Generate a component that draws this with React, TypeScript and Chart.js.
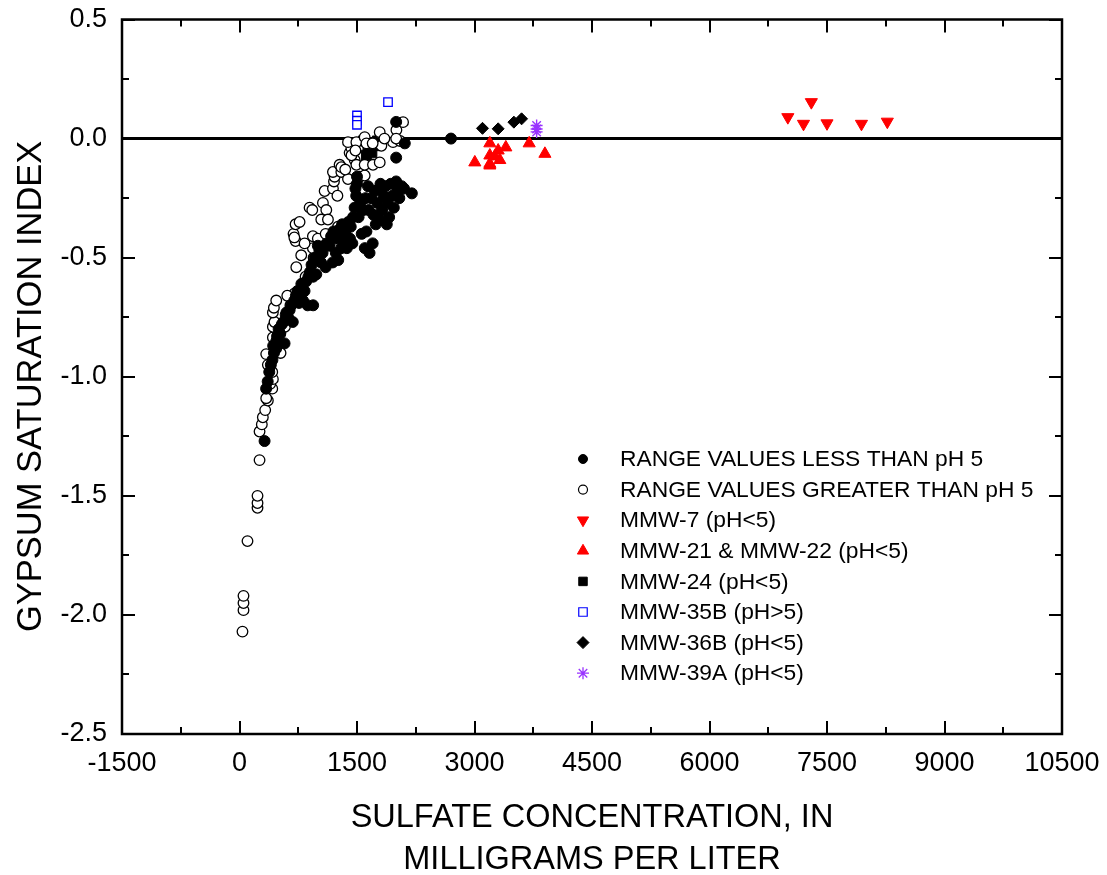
import React, { useEffect, useRef } from "react";
import { Chart, registerables } from "chart.js";

Chart.register(...registerables);

const FONT = "'Liberation Sans', Arial, Helvetica, sans-serif";

// Axis ranges and tick steps
const X_MIN = -1500;
const X_MAX = 10500;
const X_STEP = 1500;
const Y_MIN = -2.5;
const Y_MAX = 0.5;
const Y_STEP = 0.5;

const X_TITLE = ["SULFATE CONCENTRATION, IN", "MILLIGRAMS PER LITER"];
const Y_TITLE = "GYPSUM SATURATION INDEX  ";

// Series: [sulfate mg/L, gypsum saturation index]
const rangeBelowPH5: [number, number][] = [
  [320, -1.27], [340, -1.05], [360, -1.02], [380, -0.98], [400, -0.95], [420, -0.93],
  [440, -0.9], [430, -0.87], [460, -0.88], [470, -0.85], [480, -0.83], [500, -0.8],
  [520, -0.82], [540, -0.78], [560, -0.77], [575, -0.86], [590, -0.74], [600, -0.73],
  [620, -0.75], [640, -0.72], [660, -0.7], [680, -0.77], [700, -0.68], [720, -0.66],
  [740, -0.64], [760, -0.69], [790, -0.61], [810, -0.68], [830, -0.64], [850, -0.6],
  [870, -0.7], [880, -0.58], [900, -0.56], [920, -0.53], [940, -0.58], [940, -0.7],
  [960, -0.5], [980, -0.57], [1000, -0.45], [1020, -0.47], [1040, -0.52], [1060, -0.48],
  [1080, -0.45], [1100, -0.54], [1120, -0.44], [1150, -0.45], [1170, -0.41], [1190, -0.52],
  [1200, -0.39], [1230, -0.48], [1240, -0.42], [1260, -0.51], [1280, -0.38], [1300, -0.46],
  [1310, -0.36], [1330, -0.44], [1350, -0.4], [1370, -0.46], [1390, -0.35], [1410, -0.42],
  [1420, -0.37], [1440, -0.44], [1450, -0.33], [1470, -0.29], [1480, -0.21], [1490, -0.24],
  [1500, -0.19], [1520, -0.33], [1540, -0.27], [1560, -0.4], [1580, -0.3], [1600, -0.46],
  [1610, -0.25], [1620, -0.39], [1640, -0.2], [1650, -0.3], [1660, -0.48], [1680, -0.25],
  [1700, -0.44], [1710, -0.32], [1730, -0.22], [1740, -0.36], [1760, -0.27], [1780, -0.21],
  [1790, -0.34], [1800, -0.19], [1820, -0.3], [1840, -0.24], [1860, -0.2], [1880, -0.36],
  [1890, -0.27], [1910, -0.33], [1930, -0.19], [1950, -0.24], [1970, -0.29], [2000, -0.18],
  [2020, -0.22], [2040, -0.25], [2070, -0.2], [2100, -0.21], [2200, -0.23], [2000, -0.08],
  [2110, -0.02], [2000, 0.07], [1500, -0.16], [2700, 0.0],
];

const rangeAbovePH5: [number, number][] = [
  [38, -2.07], [51, -1.98], [51, -1.95], [51, -1.92], [102, -1.69], [230, -1.55],
  [230, -1.53], [230, -1.5], [256, -1.35], [256, -1.23], [285, -1.2], [298, -1.17],
  [328, -1.14], [362, -1.1], [341, -1.09], [418, -1.05], [392, -1.03], [426, -1.01],
  [418, -0.98], [384, -0.96], [362, -0.95], [341, -0.905], [524, -0.9], [469, -0.88],
  [426, -0.835], [490, -0.82], [524, -0.81], [426, -0.79], [447, -0.77], [426, -0.73],
  [439, -0.71], [469, -0.68], [725, -0.68], [703, -0.65], [844, -0.58], [725, -0.54],
  [788, -0.49], [946, -0.5], [937, -0.46], [716, -0.43], [831, -0.44], [690, -0.4],
  [700, -0.415], [716, -0.36], [767, -0.35], [895, -0.29], [929, -0.3], [937, -0.41],
  [1065, -0.27], [1108, -0.3], [1044, -0.34], [1129, -0.34], [1087, -0.22], [1193, -0.21],
  [1206, -0.18], [1214, -0.16], [1193, -0.14], [1278, -0.11], [1300, -0.14], [1300, -0.12],
  [1257, -0.37], [1321, -0.39], [1385, -0.17], [1406, -0.06], [1428, -0.04], [1385, -0.015],
  [1492, -0.015], [1470, -0.09], [1492, -0.11], [1534, -0.16], [1598, -0.155], [1598, -0.11],
  [1598, 0.006], [1620, -0.02], [1704, -0.11], [1790, -0.1], [1790, 0.027], [1811, -0.03],
  [1960, -0.015], [2003, 0.036], [2088, 0.069], [1430, -0.07], [1350, -0.13], [1250, -0.24],
  [1000, -0.42], [1100, -0.4], [580, -0.79], [610, -0.66], [650, -0.7], [1480, -0.05],
  [1700, -0.02], [1850, 0.0], [2050, -0.01], [2000, 0.0],
];

const mmw7: [number, number][] = [
  [7000, 0.09], [7200, 0.062], [7300, 0.153], [7500, 0.064], [7940, 0.062], [8270, 0.071],
];

const mmw21and22: [number, number][] = [
  [3004, -0.1], [3196, -0.02], [3196, -0.071], [3196, -0.106], [3196, -0.113],
  [3260, -0.075], [3302, -0.05], [3323, -0.09], [3400, -0.037], [3698, -0.02], [3899, -0.064],
];

const mmw24: [number, number][] = [
  [1580, -0.01], [1620, -0.07], [1640, -0.04], [1680, -0.02], [1690, -0.06], [1720, -0.03], [1760, -0.01],
];

const mmw35B: [number, number][] = [
  [1500, 0.097], [1500, 0.075], [1500, 0.058], [1896, 0.153],
];

const mmw36B: [number, number][] = [
  [3102, 0.043], [3302, 0.041], [3503, 0.069], [3601, 0.083],
];

const mmw39A: [number, number][] = [
  [3793, 0.055], [3793, 0.04], [3793, 0.028],
];

const LEGEND_LABELS = [
  "RANGE VALUES LESS THAN pH 5",
  "RANGE VALUES GREATER THAN pH 5",
  "MMW-7 (pH<5)",
  "MMW-21 & MMW-22 (pH<5)",
  "MMW-24 (pH<5)",
  "MMW-35B (pH>5)",
  "MMW-36B (pH<5)",
  "MMW-39A (pH<5)",
];

const toPts = (arr: [number, number][]) => arr.map(([x, y]) => ({ x, y }));

function drawMarker(
  ctx: CanvasRenderingContext2D,
  style: string,
  x: number,
  y: number,
  r: number,
  rot: number,
  fill: string,
  stroke: string,
  lw: number
) {
  ctx.save();
  ctx.translate(x, y);
  ctx.rotate((rot * Math.PI) / 180);
  ctx.beginPath();
  if (style === "circle") {
    ctx.arc(0, 0, r, 0, Math.PI * 2);
  } else if (style === "triangle") {
    ctx.moveTo(0, -r);
    ctx.lineTo(r * 0.866, r * 0.5);
    ctx.lineTo(-r * 0.866, r * 0.5);
    ctx.closePath();
  } else if (style === "rect") {
    const s = r * Math.SQRT1_2;
    ctx.rect(-s, -s, 2 * s, 2 * s);
  } else if (style === "rectRot") {
    ctx.moveTo(0, -r);
    ctx.lineTo(r, 0);
    ctx.lineTo(0, r);
    ctx.lineTo(-r, 0);
    ctx.closePath();
  } else if (style === "star") {
    for (let k = 0; k < 4; k++) {
      const a = (k * Math.PI) / 4;
      ctx.moveTo(-Math.cos(a) * r, -Math.sin(a) * r);
      ctx.lineTo(Math.cos(a) * r, Math.sin(a) * r);
    }
  }
  if (style !== "star") {
    ctx.fillStyle = fill;
    ctx.fill();
  }
  ctx.lineWidth = lw;
  ctx.strokeStyle = stroke;
  ctx.stroke();
  ctx.restore();
}

const legendMarkers = [
  { style: "circle", r: 4.5, rot: 0, fill: "#000", stroke: "#000", lw: 1 },
  { style: "circle", r: 4.5, rot: 0, fill: "#fff", stroke: "#000", lw: 1.2 },
  { style: "triangle", r: 6.5, rot: 180, fill: "#ff0000", stroke: "#ff0000", lw: 1 },
  { style: "triangle", r: 6.5, rot: 0, fill: "#ff0000", stroke: "#ff0000", lw: 1 },
  { style: "rect", r: 6, rot: 0, fill: "#000", stroke: "#000", lw: 1 },
  { style: "rect", r: 6, rot: 0, fill: "#fff", stroke: "#0000ff", lw: 1.2 },
  { style: "rectRot", r: 6, rot: 0, fill: "#000", stroke: "#000", lw: 1 },
  { style: "star", r: 6, rot: 0, fill: "#9933ff", stroke: "#9933ff", lw: 1.3 },
];

const zeroPadding = (s: any) => {
  s.paddingTop = 0;
  s.paddingBottom = 0;
  s.paddingLeft = 0;
  s.paddingRight = 0;
};

const framePlugin = {
  id: "frameAndLegend",
  beforeDatasetsDraw(chart: any) {
    const { ctx, chartArea: a, scales } = chart;
    const y0 = scales.y.getPixelForValue(0);
    ctx.save();
    ctx.strokeStyle = "#000";
    ctx.lineWidth = 3;
    ctx.beginPath();
    ctx.moveTo(a.left, y0);
    ctx.lineTo(a.right, y0);
    ctx.stroke();
    ctx.restore();
  },
  afterDraw(chart: any) {
    const { ctx, chartArea: a, scales } = chart;
    const xs = scales.x;
    const ys = scales.y;
    ctx.save();
    ctx.strokeStyle = "#000";
    ctx.lineWidth = 2;
    // ticks (inward) on all four sides
    ctx.beginPath();
    for (let v = X_MIN, i = 0; v <= X_MAX + 1e-6; v += X_STEP / 2, i++) {
      const px = Math.round(xs.getPixelForValue(v));
      const len = i % 2 === 0 ? 13 : 7;
      ctx.moveTo(px, a.bottom);
      ctx.lineTo(px, a.bottom - len);
      ctx.moveTo(px, a.top);
      ctx.lineTo(px, a.top + len);
    }
    for (let v = Y_MIN, i = 0; v <= Y_MAX + 1e-6; v += Y_STEP / 2, i++) {
      const py = Math.round(ys.getPixelForValue(v));
      const len = i % 2 === 0 ? 13 : 7;
      ctx.moveTo(a.left, py);
      ctx.lineTo(a.left + len, py);
      ctx.moveTo(a.right, py);
      ctx.lineTo(a.right - len, py);
    }
    ctx.stroke();
    // frame
    ctx.lineWidth = 2.5;
    ctx.strokeRect(a.left, a.top, a.right - a.left, a.bottom - a.top);
    ctx.restore();

    // legend
    ctx.save();
    ctx.font = `22.8px ${FONT}`;
    ctx.fillStyle = "#000";
    ctx.textBaseline = "middle";
    ctx.textAlign = "left";
    const lx = 583;
    const tx = 620;
    const ly0 = 459;
    const dy = 30.6;
    LEGEND_LABELS.forEach((label, i) => {
      const m = legendMarkers[i];
      const yy = ly0 + i * dy;
      drawMarker(ctx, m.style, lx, yy, m.r, m.rot, m.fill, m.stroke, m.lw);
      ctx.fillStyle = "#000";
      ctx.fillText(label, tx, yy + 1);
    });
    ctx.restore();
  },
};

export default function App() {
  const canvasRef = useRef<HTMLCanvasElement | null>(null);

  useEffect(() => {
    const canvas = canvasRef.current;
    if (!canvas) return;
    const chart = new Chart(canvas, {
      type: "scatter",
      data: {
        datasets: [
          {
            label: LEGEND_LABELS[0],
            data: toPts(rangeBelowPH5),
            pointStyle: "circle",
            pointRadius: 5.5,
            pointBackgroundColor: "#000",
            pointBorderColor: "#000",
            pointBorderWidth: 1,
          },
          {
            label: LEGEND_LABELS[1],
            data: toPts(rangeAbovePH5),
            pointStyle: "circle",
            pointRadius: 5.3,
            pointBackgroundColor: "#fff",
            pointBorderColor: "#000",
            pointBorderWidth: 1.3,
          },
          {
            label: LEGEND_LABELS[2],
            data: toPts(mmw7),
            pointStyle: "triangle",
            rotation: 180,
            pointRadius: 7,
            pointBackgroundColor: "#ff0000",
            pointBorderColor: "#ff0000",
            pointBorderWidth: 1,
          },
          {
            label: LEGEND_LABELS[3],
            data: toPts(mmw21and22),
            pointStyle: "triangle",
            pointRadius: 7,
            pointBackgroundColor: "#ff0000",
            pointBorderColor: "#ff0000",
            pointBorderWidth: 1,
          },
          {
            label: LEGEND_LABELS[4],
            data: toPts(mmw24),
            pointStyle: "rect",
            pointRadius: 7,
            pointBackgroundColor: "#000",
            pointBorderColor: "#000",
            pointBorderWidth: 1,
          },
          {
            label: LEGEND_LABELS[5],
            data: toPts(mmw35B),
            pointStyle: "rect",
            pointRadius: 6,
            pointBackgroundColor: "#fff",
            pointBorderColor: "#0000ff",
            pointBorderWidth: 1.3,
          },
          {
            label: LEGEND_LABELS[6],
            data: toPts(mmw36B),
            pointStyle: "rectRot",
            pointRadius: 6,
            pointBackgroundColor: "#000",
            pointBorderColor: "#000",
            pointBorderWidth: 1,
          },
          {
            label: LEGEND_LABELS[7],
            data: toPts(mmw39A),
            pointStyle: "star",
            pointRadius: 6,
            pointBackgroundColor: "#9933ff",
            pointBorderColor: "#9933ff",
            pointBorderWidth: 1.4,
          },
        ],
      },
      options: {
        animation: false,
        responsive: false,
        devicePixelRatio: 1,
        layout: { padding: { top: 19.5, right: 45, left: 0, bottom: 0 } },
        plugins: {
          legend: { display: false },
          tooltip: { enabled: false },
        },
        scales: {
          x: {
            type: "linear",
            min: X_MIN,
            max: X_MAX,
            grid: { display: false, drawTicks: false },
            border: { display: false },
            ticks: {
              stepSize: X_STEP,
              autoSkip: false,
              maxRotation: 0,
              color: "#000",
              padding: 13,
              font: { family: FONT, size: 27 },
              callback: (v: any) => String(v),
            },
            title: {
              display: true,
              text: X_TITLE,
              color: "#000",
              font: { family: FONT, size: 32.5, lineHeight: 1.3 },
              padding: { top: 0, bottom: -6 },
            },
            afterFit: (s: any) => {
              s.height = 141;
              zeroPadding(s);
            },
          },
          y: {
            type: "linear",
            min: Y_MIN,
            max: Y_MAX,
            grid: { display: false, drawTicks: false },
            border: { display: false },
            ticks: {
              stepSize: Y_STEP,
              autoSkip: false,
              color: "#000",
              padding: 15,
              font: { family: FONT, size: 27 },
              callback: (v: any) => Number(v).toFixed(1),
            },
            title: {
              display: true,
              text: Y_TITLE,
              color: "#000",
              font: { family: FONT, size: 34.5, lineHeight: 1.2 },
              padding: { top: 11, bottom: 0 },
            },
            afterFit: (s: any) => {
              s.width = 122;
              zeroPadding(s);
            },
          },
        },
      },
      plugins: [framePlugin],
    });
    return () => chart.destroy();
  }, []);

  return (
    <div style={{ position: "absolute", left: 0, top: 0, width: 1107, height: 875, background: "#fff" }}>
      <canvas ref={canvasRef} width={1107} height={875} style={{ width: 1107, height: 875, display: "block" }} />
    </div>
  );
}
